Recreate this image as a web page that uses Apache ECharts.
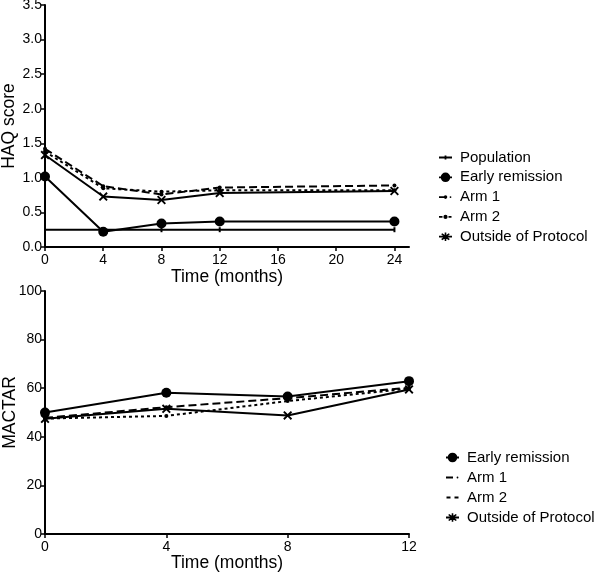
<!DOCTYPE html>
<html>
<head>
<meta charset="utf-8">
<script src="https://cdn.jsdelivr.net/npm/echarts@6/dist/echarts.min.js"></script>
<style>
html,body{margin:0;padding:0;background:#fff;}
#chart{width:600px;height:574px;}
</style>
</head>
<body>
<div id="chart"></div>
<script>
// ---- Data ----
var haqMonths = [0, 4, 8, 12, 24];
var haqPopulation = [0.25, 0.25, 0.25, 0.25, 0.25];
var haqEarly = [1.02, 0.22, 0.34, 0.37, 0.37];
var haqArm1 = [1.42, 0.88, 0.76, 0.86, 0.89];
var haqArm2 = [1.38, 0.85, 0.80, 0.82, 0.82];
var haqOutside = [1.33, 0.73, 0.68, 0.78, 0.81];
var haqTicksX = [0, 4, 8, 12, 16, 20, 24];

var mactarMonths = [0, 4, 8, 12];
var mactarEarly = [50.0, 58.1, 56.6, 62.9];
var mactarArm1 = [47.8, 52.2, 55.9, 60.2];
var mactarArm2 = [47.5, 48.6, 54.7, 59.8];
var mactarOutside = [47.4, 51.5, 48.8, 59.5];

var legendTop = ['Population', 'Early remission', 'Arm 1', 'Arm 2', 'Outside of Protocol'];
var legendBottom = ['Early remission', 'Arm 1', 'Arm 2', 'Outside of Protocol'];

// ---- Helpers ----
function pairs(xs, ys) { return xs.map(function (x, i) { return [x, ys[i]]; }); }
var FONT = 'Liberation Sans, Arial, sans-serif';
var XMARK = 'path://M1.5,0 L5,3.5 L8.5,0 L10,1.5 L6.5,5 L10,8.5 L8.5,10 L5,6.5 L1.5,10 L0,8.5 L3.5,5 L0,1.5 Z';

// legend icon paths, drawn in a 15 x 10 box
function circ(cx, cy, r) {
  return 'M' + (cx - r) + ',' + cy + ' A' + r + ',' + r + ' 0 1,1 ' + (cx + r) + ',' + cy +
    ' A' + r + ',' + r + ' 0 1,1 ' + (cx - r) + ',' + cy + ' Z ';
}
function bar(x0, x1) { return 'M' + x0 + ',4.1 H' + x1 + ' V5.9 H' + x0 + ' Z '; }
var BOX = 'M0,0 H0.01 V0.01 H0 Z M14.99,9.99 H15 V10 H14.99 Z ';
var ICON = {
  pop: 'path://' + BOX + bar(1, 14) + 'M6.6,3 H8.4 V7 H6.6 Z',
  early: 'path://' + BOX + bar(1, 14) + circ(7.5, 5, 4.8),
  arm1: 'path://' + BOX + bar(1, 6.5) + circ(7.5, 5, 1.8) + circ(12.5, 5, 0.9),
  arm2: 'path://' + BOX + bar(1, 4.5) + circ(7.5, 5, 2.1) + bar(10.5, 13.5),
  arm1b: 'path://' + BOX + bar(1, 8) + circ(12.5, 5, 0.9),
  arm2b: 'path://' + BOX + bar(1.5, 5.5) + bar(9.5, 13.5),
  out: 'path://' + BOX + bar(1, 14) +
    'M4.2,1.5 L7.5,3.8 L10.8,1.5 L11.8,2.6 L8.9,5 L11.8,7.4 L10.8,8.5 L7.5,6.2 L4.2,8.5 L3.2,7.4 L6.1,5 L3.2,2.6 Z ' +
    'M6.7,0.8 H8.3 V9.2 H6.7 Z'
};

function styles(kind) {
  switch (kind) {
    case 'pop': return { symbol: 'rect', symbolSize: [2, 5], lineStyle: { type: 'solid', width: 2 } };
    case 'early': return { symbol: 'circle', symbolSize: 10, lineStyle: { type: 'solid', width: 2 } };
    case 'arm1': return { symbol: 'circle', symbolSize: 4, lineStyle: { type: [8, 4], width: 2 } };
    case 'arm2': return { symbol: 'circle', symbolSize: 4, lineStyle: { type: [3, 3], width: 2 } };
    case 'out': return { symbol: XMARK, symbolSize: 9, lineStyle: { type: 'solid', width: 2 } };
  }
}
function mk(name, kind, xi, data) {
  var s = styles(kind);
  return {
    name: name, type: 'line', xAxisIndex: xi, yAxisIndex: xi,
    data: data, symbol: s.symbol, symbolSize: s.symbolSize,
    showSymbol: true, animation: false, silent: true,
    itemStyle: { color: '#000', borderWidth: 0 },
    lineStyle: Object.assign({ color: '#000' }, s.lineStyle)
  };
}

var axisCommon = {
  axisLine: { show: true, onZero: false, lineStyle: { color: '#000', width: 2 } },
  axisTick: { show: true, inside: false, length: 4, lineStyle: { color: '#000', width: 1.5 } },
  splitLine: { show: false },
  nameTextStyle: { color: '#000', fontSize: 17.5, fontFamily: FONT },
  nameLocation: 'middle',
  nameMoveOverlap: false
};
function ax(extra) { return Object.assign({}, JSON.parse(JSON.stringify(axisCommon)), extra); }
var lbl = { color: '#000', fontSize: 14, fontFamily: FONT };

var chart = echarts.init(document.getElementById('chart'), null, { renderer: 'canvas' });
chart.setOption({
  backgroundColor: '#fff',
  animation: false,
  grid: [
    { left: 45, right: 191, top: 5, bottom: 327, outerBoundsMode: 'none', containLabel: false },
    { left: 45, right: 191, top: 291, bottom: 40, outerBoundsMode: 'none', containLabel: false }
  ],
  xAxis: [
    ax({ type: 'value', gridIndex: 0, min: 0, max: 25, interval: 4, name: 'Time (months)', nameGap: 21,
      axisTick: { show: true, length: 4, customValues: haqTicksX, lineStyle: { color: '#000', width: 1.5 } },
      axisLabel: Object.assign({ customValues: haqTicksX, margin: 6 }, lbl) }),
    ax({ type: 'value', gridIndex: 1, min: 0, max: 12, interval: 4, name: 'Time (months)', nameGap: 20,
      axisLabel: Object.assign({ margin: 6 }, lbl) })
  ],
  yAxis: [
    ax({ type: 'value', gridIndex: 0, min: 0, max: 3.5, interval: 0.5, name: 'HAQ score', nameGap: 27,
      axisLabel: Object.assign({ margin: 3, formatter: function (v) { return v.toFixed(1); } }, lbl) }),
    ax({ type: 'value', gridIndex: 1, min: 0, max: 100, interval: 20, name: 'MACTAR', nameGap: 26,
      axisLabel: Object.assign({ margin: 3 }, lbl) })
  ],
  legend: [
    { orient: 'vertical', left: 438, top: 150, padding: 0, itemWidth: 15, itemHeight: 10, itemGap: 4.8,
      selectedMode: false, symbolKeepAspect: false,
      data: [
        { name: legendTop[0], icon: ICON.pop },
        { name: legendTop[1], icon: ICON.early },
        { name: legendTop[2], icon: ICON.arm1 },
        { name: legendTop[3], icon: ICON.arm2 },
        { name: legendTop[4], icon: ICON.out }
      ],
      itemStyle: { color: '#000', borderWidth: 0 }, lineStyle: { width: 0 },
      textStyle: { color: '#000', fontSize: 15, fontFamily: FONT, padding: [0, 0, 0, 2] } },
    { orient: 'vertical', left: 445, top: 450, padding: 0, itemWidth: 15, itemHeight: 10, itemGap: 5,
      selectedMode: false, symbolKeepAspect: false,
      data: [
        { name: legendBottom[0], icon: ICON.early },
        { name: legendBottom[1], icon: ICON.arm1b },
        { name: legendBottom[2], icon: ICON.arm2b },
        { name: legendBottom[3], icon: ICON.out }
      ],
      itemStyle: { color: '#000', borderWidth: 0 }, lineStyle: { width: 0 },
      textStyle: { color: '#000', fontSize: 15, fontFamily: FONT, padding: [0, 0, 0, 2] } }
  ],
  series: [
    mk('Population', 'pop', 0, pairs(haqMonths, haqPopulation)),
    mk('Early remission', 'early', 0, pairs(haqMonths, haqEarly)),
    mk('Arm 1', 'arm1', 0, pairs(haqMonths, haqArm1)),
    mk('Arm 2', 'arm2', 0, pairs(haqMonths, haqArm2)),
    mk('Outside of Protocol', 'out', 0, pairs(haqMonths, haqOutside)),
    mk('Early remission', 'early', 1, pairs(mactarMonths, mactarEarly)),
    mk('Arm 1', 'arm1', 1, pairs(mactarMonths, mactarArm1)),
    mk('Arm 2', 'arm2', 1, pairs(mactarMonths, mactarArm2)),
    mk('Outside of Protocol', 'out', 1, pairs(mactarMonths, mactarOutside))
  ]
});
</script>
</body>
</html>
